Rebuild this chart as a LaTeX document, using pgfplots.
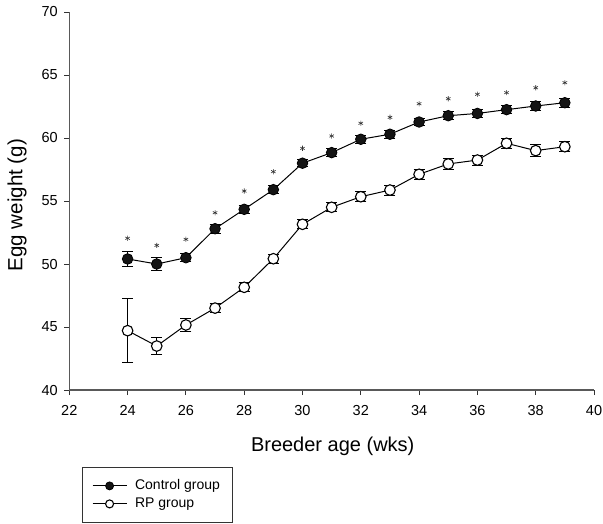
\documentclass[border=0pt]{standalone}
\usepackage{pgfplots}
\pgfplotsset{compat=1.18}
\usepackage{fontspec}
\setmainfont{Liberation Sans}
\begin{document}
\begin{tikzpicture}[x=1pt,y=1pt]
\path[use as bounding box] (0,0) rectangle (603,-523);
\begin{axis}[
  at={(69.3pt,-390pt)}, anchor=south west,
  scale only axis, width=524.7pt, height=378pt,
  xmin=22, xmax=40, ymin=40, ymax=70,
  xtick={22,24,...,40}, ytick={40,45,...,70},
  axis x line*=bottom, axis y line*=left,
  axis line style={draw=black!65, line width=1.1pt, -},
  tick align=outside, major tick length=5pt,
  tick style={black!80, line width=0.9pt},
  /pgf/number format/assume math mode=true,
  ticklabel style={font=\fontsize{14.5}{16}\selectfont},
  xticklabel style={yshift=-6.5pt},
  yticklabel style={xshift=-3pt},
  xlabel={Breeder age (wks)},
  ylabel={Egg weight (g)},
  xlabel style={font=\fontsize{20}{24}\selectfont, at={(axis description cs:0.502,-0.15)}, anchor=center},
  ylabel style={font=\fontsize{20.5}{24}\selectfont, at={(axis description cs:-0.0997,0.489)}, anchor=center},
  clip=false,
  legend style={at={(axis description cs:0.0236,-0.2037)}, anchor=north west,
    draw=black!80, line width=0.8pt, font=\fontsize{14}{16}\selectfont,
    inner xsep=10pt, inner ysep=12pt, row sep=5pt, column sep=8pt,
    nodes={inner sep=0pt, text height=10pt, text depth=3pt},
    cells={anchor=west}},
  legend cell align=left,
  legend image code/.code={\draw[mark repeat=2,mark phase=2,#1,mark size=4pt] plot coordinates {(0pt,0pt)(17pt,0pt)(34pt,0pt)};},
]
\addplot[black, line width=1pt, mark=*, mark size=5.3pt,
  mark options={fill=black!92, draw=black, line width=0.8pt},
  error bars/.cd, y dir=both, y explicit,
  error bar style={line width=1pt, black},
  error mark options={rotate=90, mark size=5.5pt, line width=1pt, black}]
table[x=x, y=y, y error=e] {
x y e
24 50.4 0.6
25 50.0 0.5
26 50.5 0.3
27 52.8 0.35
28 54.34 0.3
29 55.9 0.3
30 58.0 0.3
31 58.84 0.3
32 59.9 0.3
33 60.3 0.3
34 61.27 0.3
35 61.77 0.3
36 61.95 0.3
37 62.25 0.3
38 62.54 0.35
39 62.8 0.35
};
\addlegendentry{Control group\hspace*{2pt}}
\addplot[black, line width=1pt, mark=*, mark size=5.3pt,
  mark options={fill=white, draw=black, line width=1.1pt},
  error bars/.cd, y dir=both, y explicit,
  error bar style={line width=1pt, black},
  error mark options={rotate=90, mark size=5.5pt, line width=1pt, black}]
table[x=x, y=y, y error=e] {
x y e
24 44.71 2.55
25 43.49 0.68
26 45.16 0.55
27 46.5 0.35
28 48.15 0.35
29 50.42 0.35
30 53.15 0.35
31 54.5 0.35
32 55.34 0.4
33 55.87 0.4
34 57.12 0.4
35 57.94 0.4
36 58.25 0.4
37 59.58 0.4
38 59.0 0.45
39 59.31 0.4
};
\addlegendentry{RP group}
\addplot[only marks, mark=asterisk, mark size=2.6pt, mark options={black!80, line width=0.6pt}, forget plot]
table[x=x, y=y] {
x y
24 52.04
25 51.48
26 51.96
27 54.07
28 55.79
29 57.33
30 59.18
31 60.16
32 61.17
33 61.64
34 62.72
35 63.12
36 63.47
37 63.60
38 63.99
39 64.39
};
\end{axis}
\end{tikzpicture}
\end{document}
